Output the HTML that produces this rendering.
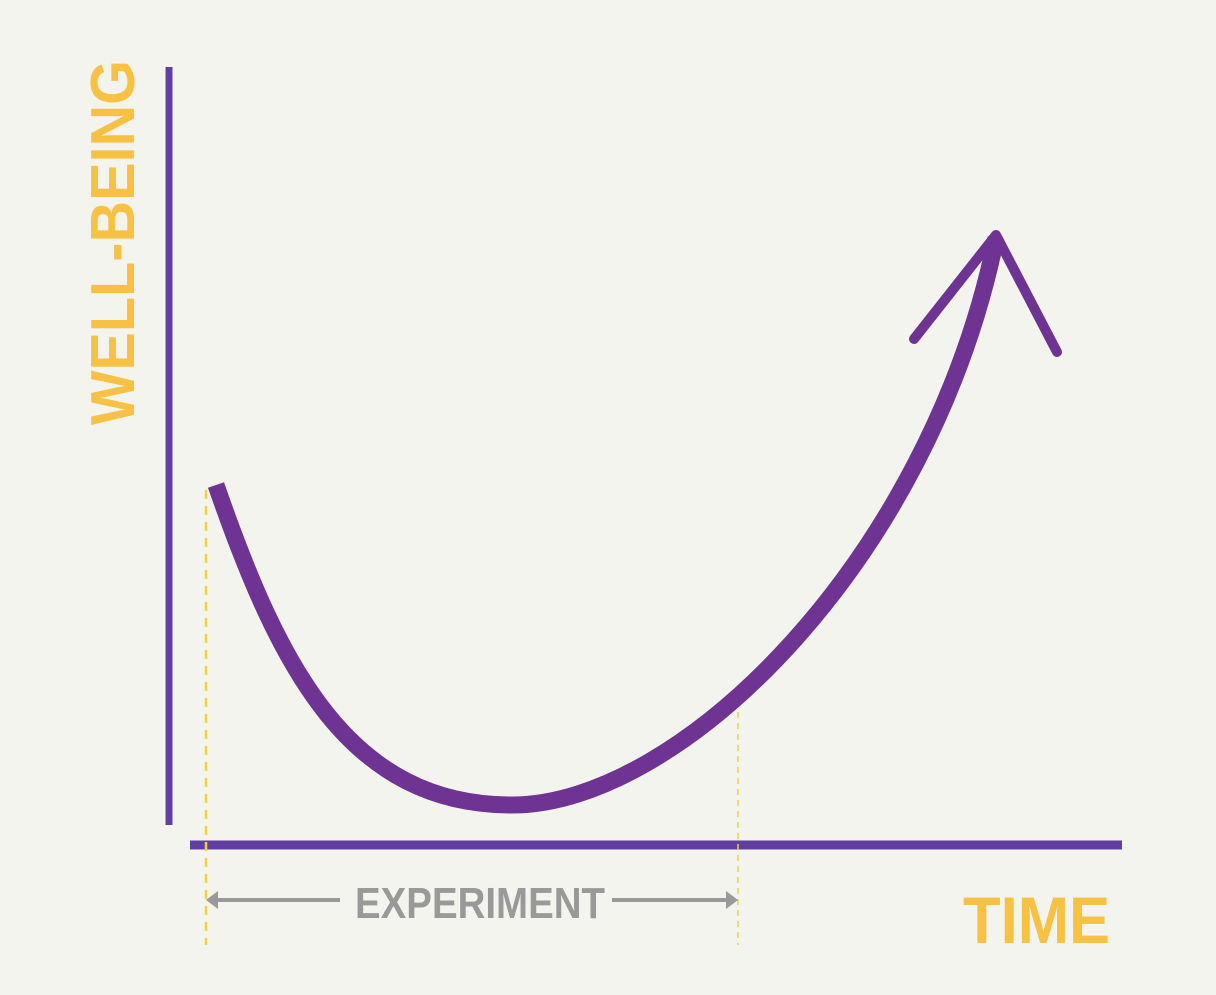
<!DOCTYPE html>
<html><head><style>
html,body{margin:0;padding:0;background:#f4f4ef;}
svg{display:block;}
</style></head><body>
<svg width="1216" height="995" viewBox="0 0 1216 995" xmlns="http://www.w3.org/2000/svg">
<rect width="1216" height="995" fill="#f4f4ef"/>
<line x1="169" y1="67" x2="169" y2="825" stroke="#603f9f" stroke-width="7"/>
<line x1="190" y1="845" x2="1122" y2="845" stroke="#603f9f" stroke-width="9"/>
<line x1="206" y1="490" x2="206" y2="945" stroke="#f5cf3e" stroke-width="2.5" stroke-dasharray="9,7"/>
<line x1="738" y1="690" x2="738" y2="945" stroke="#f5cf3e" stroke-width="1.5" stroke-dasharray="6,5"/>
<path d="M216,485 C280,670 350,805 512,805 C680,805 930,560 996,238" fill="none" stroke="#6f3393" stroke-width="17"/>
<path d="M914,339 L996,235 L1057,352" fill="none" stroke="#6f3393" stroke-width="10" stroke-linecap="round" stroke-linejoin="round"/>
<line x1="214" y1="900" x2="340" y2="900" stroke="#999" stroke-width="4"/>
<polygon points="206,900 218,891 218,909" fill="#999"/>
<line x1="612" y1="900" x2="728" y2="900" stroke="#999" stroke-width="4"/>
<polygon points="738,900 726,891 726,909" fill="#999"/>
<text x="355" y="918" font-family="Liberation Sans, sans-serif" font-weight="bold" font-size="44" fill="#999" textLength="250" lengthAdjust="spacingAndGlyphs">EXPERIMENT</text>
<text x="963" y="943" font-family="Liberation Sans, sans-serif" font-weight="bold" font-size="66" fill="#f7c144" textLength="147" lengthAdjust="spacingAndGlyphs">TIME</text>
<text transform="translate(134,425) rotate(-90)" x="0" y="0" font-family="Liberation Sans, sans-serif" font-weight="bold" font-size="62" fill="#f7c144" textLength="365" lengthAdjust="spacingAndGlyphs">WELL-BEING</text>
</svg>
</body></html>
